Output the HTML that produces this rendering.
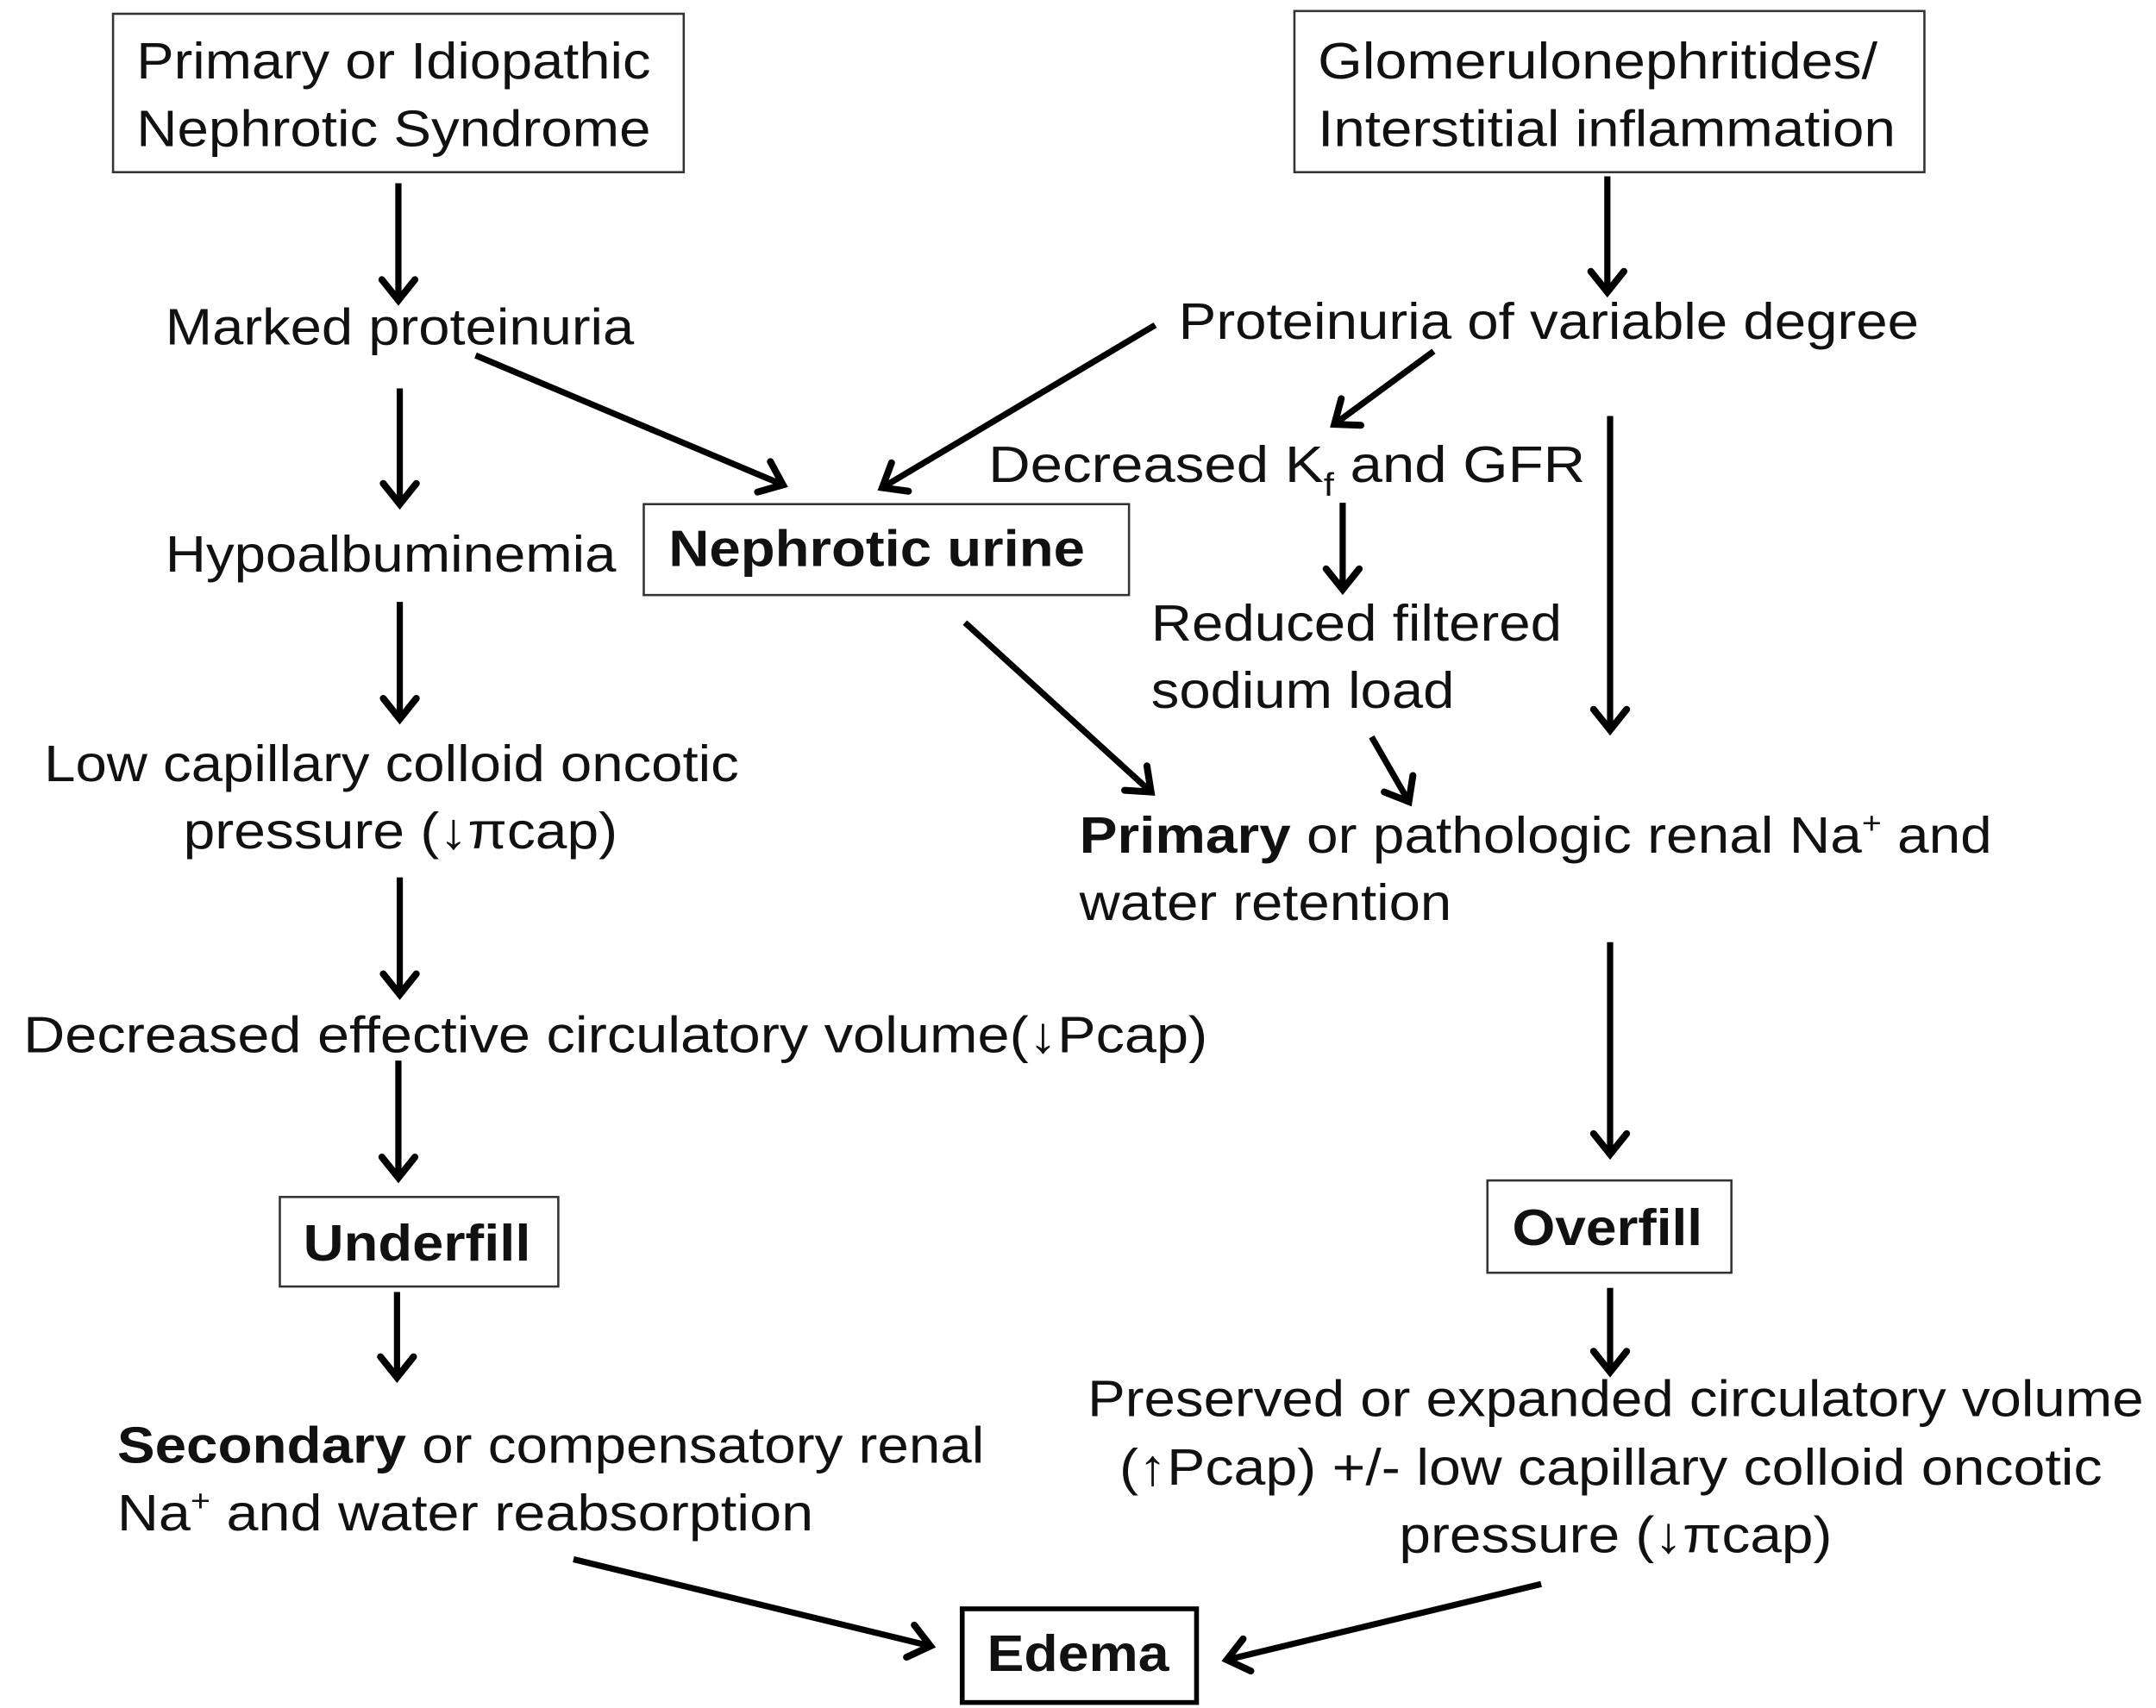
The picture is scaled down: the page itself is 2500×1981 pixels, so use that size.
<!DOCTYPE html>
<html><head><meta charset="utf-8"><style>html,body{margin:0;padding:0;background:#fff}svg{display:block}</style></head>
<body>
<svg width="2500" height="1981" viewBox="0 0 1564 1240" preserveAspectRatio="none" xmlns="http://www.w3.org/2000/svg" font-family="'Liberation Sans', Arial, sans-serif" font-size="37" fill="#111">
<defs>
<marker id="a" markerUnits="userSpaceOnUse" markerWidth="40" markerHeight="40" refX="0" refY="0" viewBox="-20 -20 40 40" orient="auto" overflow="visible">
<path d="M-15,-12 L0,0 L-15,12" fill="none" stroke="#000" stroke-width="5" stroke-linecap="round" stroke-linejoin="miter"/>
</marker>
</defs>
<g fill="none" stroke="#333" stroke-width="1.6">
<rect x="82" y="10" width="414" height="115"/>
<rect x="939" y="8" width="457" height="117"/>
<rect x="467" y="366" width="352" height="66"/>
<rect x="203" y="869" width="202" height="65"/>
<rect x="1079" y="857" width="177" height="67"/>
</g>
<rect x="698" y="1168" width="170" height="68" fill="none" stroke="#000" stroke-width="3.5"/>
<g stroke="#000" stroke-width="4.5" fill="none" marker-end="url(#a)">
<line x1="289" y1="133" x2="289" y2="218"/>
<line x1="1166" y1="128" x2="1166" y2="212"/>
<line x1="345" y1="258" x2="568" y2="352"/>
<line x1="838" y1="236" x2="640" y2="354"/>
<line x1="1040" y1="255" x2="968" y2="308"/>
<line x1="1168" y1="302" x2="1168" y2="530"/>
<line x1="290" y1="282" x2="290" y2="366"/>
<line x1="974" y1="365" x2="974" y2="428"/>
<line x1="290" y1="437" x2="290" y2="522"/>
<line x1="700" y1="452" x2="835" y2="575"/>
<line x1="995" y1="535" x2="1022" y2="582"/>
<line x1="290" y1="637" x2="290" y2="722"/>
<line x1="1168" y1="684" x2="1168" y2="838"/>
<line x1="289" y1="770" x2="289" y2="855"/>
<line x1="288" y1="938" x2="288" y2="1000"/>
<line x1="1168" y1="935" x2="1168" y2="996"/>
<line x1="416" y1="1132" x2="675" y2="1195"/>
<line x1="1118" y1="1150" x2="890" y2="1205"/>
</g>
<g>
<text x="99" y="57" textLength="373" lengthAdjust="spacingAndGlyphs">Primary or Idiopathic</text>
<text x="99" y="106" textLength="373" lengthAdjust="spacingAndGlyphs">Nephrotic Syndrome</text>
<text x="956" y="57" textLength="406" lengthAdjust="spacingAndGlyphs">Glomerulonephritides/</text>
<text x="956" y="106" textLength="419" lengthAdjust="spacingAndGlyphs">Interstitial inflammation</text>
<text x="120" y="250" textLength="340" lengthAdjust="spacingAndGlyphs">Marked proteinuria</text>
<text x="855" y="246" textLength="537" lengthAdjust="spacingAndGlyphs">Proteinuria of variable degree</text>
<text x="717" y="350" textLength="433" lengthAdjust="spacingAndGlyphs">Decreased K<tspan font-size="24" dy="10">f</tspan><tspan dy="-10">  and  GFR</tspan></text>
<text x="120" y="415" textLength="327" lengthAdjust="spacingAndGlyphs">Hypoalbuminemia</text>
<text x="485" y="411" font-weight="bold" textLength="302" lengthAdjust="spacingAndGlyphs">Nephrotic urine</text>
<text x="835" y="465" textLength="298" lengthAdjust="spacingAndGlyphs">Reduced filtered</text>
<text x="835" y="514" textLength="220" lengthAdjust="spacingAndGlyphs">sodium load</text>
<text x="32" y="567" textLength="504" lengthAdjust="spacingAndGlyphs">Low capillary colloid oncotic</text>
<text x="133" y="616" textLength="315" lengthAdjust="spacingAndGlyphs">pressure (<tspan font-weight="bold">↓</tspan>πcap)</text>
<text x="783" y="619" textLength="662" lengthAdjust="spacingAndGlyphs"><tspan font-weight="bold">Primary</tspan> or pathologic renal Na<tspan font-size="22" dy="-14">+</tspan><tspan dy="14"> and</tspan></text>
<text x="783" y="668" textLength="270" lengthAdjust="spacingAndGlyphs">water retention</text>
<text x="17" y="764" textLength="859" lengthAdjust="spacingAndGlyphs">Decreased effective circulatory volume(<tspan font-weight="bold">↓</tspan>Pcap)</text>
<text x="220" y="915" font-weight="bold" textLength="165" lengthAdjust="spacingAndGlyphs">Underfill</text>
<text x="1097" y="904" font-weight="bold" textLength="138" lengthAdjust="spacingAndGlyphs">Overfill</text>
<text x="85" y="1062" textLength="629" lengthAdjust="spacingAndGlyphs"><tspan font-weight="bold">Secondary</tspan> or compensatory renal</text>
<text x="85" y="1111" textLength="505" lengthAdjust="spacingAndGlyphs">Na<tspan font-size="22" dy="-14">+</tspan><tspan dy="14">  and water reabsorption</tspan></text>
<text x="789" y="1028" textLength="766" lengthAdjust="spacingAndGlyphs">Preserved or expanded circulatory volume</text>
<text x="812" y="1078" textLength="713" lengthAdjust="spacingAndGlyphs">(<tspan font-weight="bold">↑</tspan>Pcap) +/- low capillary colloid oncotic</text>
<text x="1015" y="1127" textLength="314" lengthAdjust="spacingAndGlyphs">pressure (<tspan font-weight="bold">↓</tspan>πcap)</text>
<text x="716" y="1213" font-weight="bold" textLength="132" lengthAdjust="spacingAndGlyphs">Edema</text>
</g>
</svg>
</body></html>
